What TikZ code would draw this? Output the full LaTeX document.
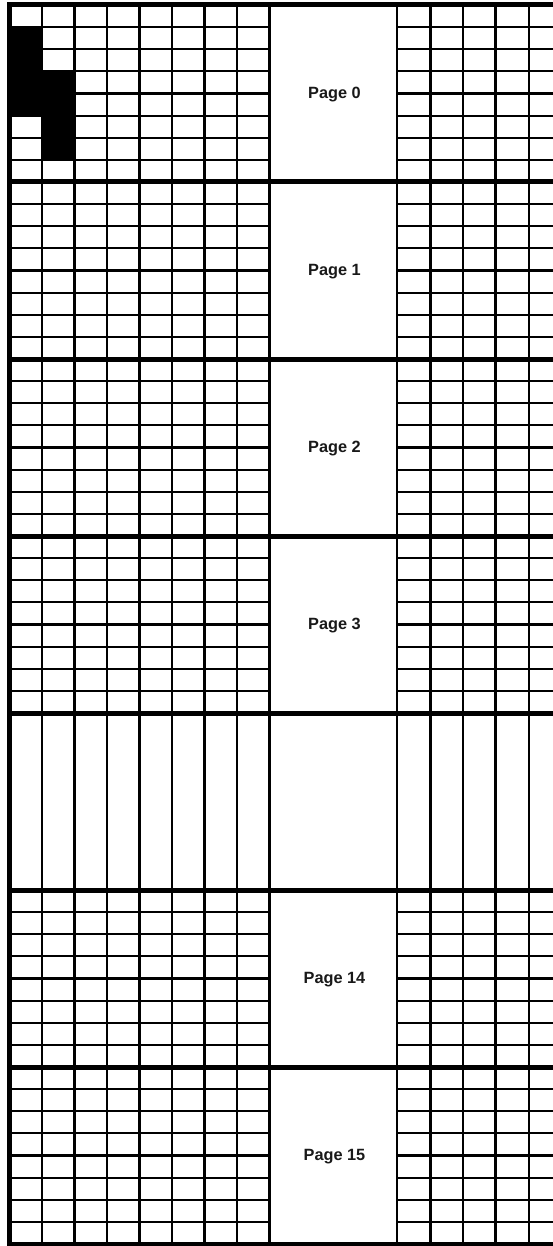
\documentclass[tikz,border=0pt]{standalone}
\usepackage{fontspec}
\setmainfont{Liberation Sans}
\begin{document}
\begin{tikzpicture}[x=1pt,y=-1pt,
  rowline/.style={line width=2.2pt,black},
  colline/.style={line width=2.7pt,black},
  pagecolline/.style={line width=2.4pt,black},
  pageline/.style={line width=5pt,black},
  usedcell/.style={fill=black},
  pagelabel/.style={font=\bfseries\fontsize{16.3}{18}\selectfont,text=black!90,inner sep=0pt,anchor=base}]
\useasboundingbox (0,0) rectangle (553,1246);
\fill[white] (0,0) rectangle (553,1246);
\begin{scope}
\clip (0,0) rectangle (553,1246);
% used cells on page 0
\fill[usedcell] (9.5,27.125) rectangle (42,115.625);
\fill[usedcell] (42,71.375) rectangle (74.5,159.875);
% inner row lines
\foreach \b in {0,1,2,3,5,6}{
  \foreach \j in {1,...,7}{
    \draw[rowline] (9.5,{5+177*\b+22.125*\j}) -- (269.5,{5+177*\b+22.125*\j});
    \draw[rowline] (397,{5+177*\b+22.125*\j}) -- (560,{5+177*\b+22.125*\j});
  }
}
% column lines
\foreach \x in {42,74.5,107,139.5,172,204.5,237,430.5,463,495.7,529}{
  \draw[colline] (\x,5) -- (\x,1244);
}
\foreach \x in {269.5,397}{
  \draw[pagecolline] (\x,5) -- (\x,1244);
}
% page boundaries
\foreach \k in {0,...,7}{
  \draw[pageline] (7.3,{5+177*\k}) -- (560,{5+177*\k});
}
\draw[pageline] (9.7,2.5) -- (9.7,1246);
\end{scope}
% labels
\node[pagelabel] (p0) at (334.5,98.3) {Page 0};
\node[pagelabel] (p1) at (334.5,275.3) {Page 1};
\node[pagelabel] (p2) at (334.5,452.3) {Page 2};
\node[pagelabel] (p3) at (334.5,629.3) {Page 3};
\node[pagelabel] (p14) at (334.5,983.3) {Page 14};
\node[pagelabel] (p15) at (334.5,1160.3) {Page 15};
\end{tikzpicture}
\end{document}
